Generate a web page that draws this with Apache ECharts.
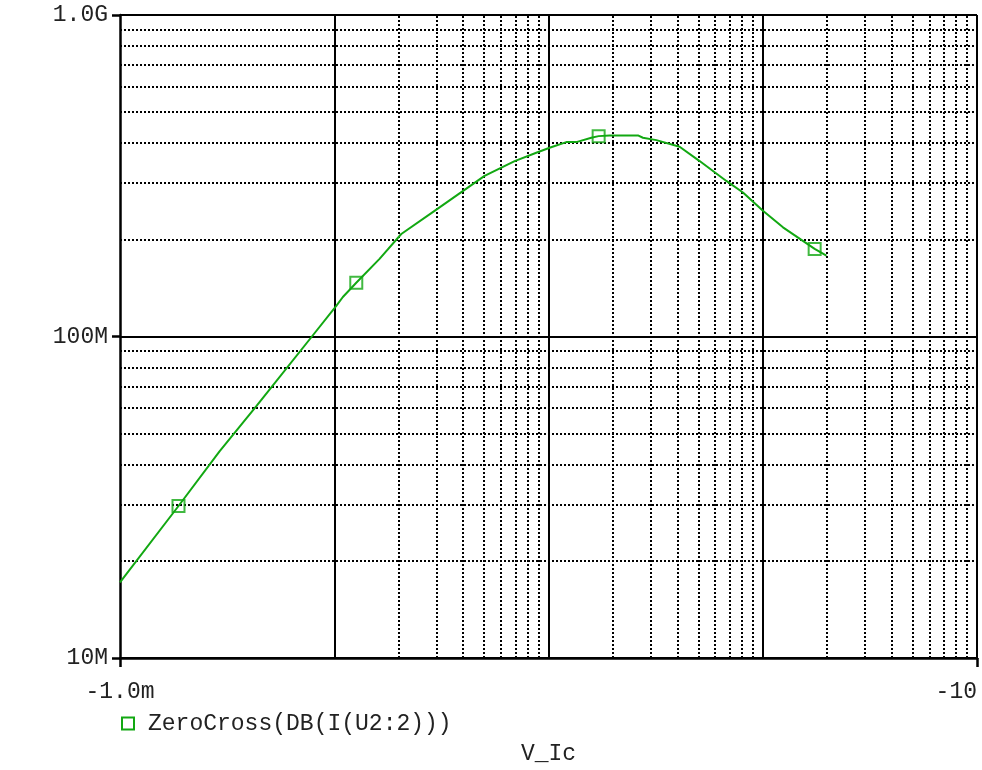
<!DOCTYPE html>
<html>
<head>
<meta charset="utf-8">
<script src="https://cdn.jsdelivr.net/npm/echarts@6/dist/echarts.min.js"></script>
<style>
html,body{margin:0;padding:0;background:#fff;}
#chart{width:982px;height:770px;}
</style>
</head>
<body>
<div id="chart"></div>
<script>
// ---- data (V_Ic in volts, value in Hz) ----
var seriesName = 'ZeroCross(DB(I(U2:2)))';
var xAxisTitle = 'V_Ic';
var xValues = [-0.001, -0.001875, -0.002914, -0.00432, -0.00795, -0.01022, -0.01097, -0.01267,
  -0.01627, -0.02055, -0.02939, -0.0503, -0.0695, -0.0877, -0.1012, -0.1211, -0.1349, -0.1584,
  -0.1714, -0.1929, -0.2615, -0.2759, -0.3187, -0.4093, -0.5074, -0.6762, -0.8085, -1.002,
  -1.2428, -1.747, -1.982];
var yValues = [17.2e6, 29.7e6, 43.95e6, 60.6e6, 100.9e6, 124.5e6, 132.7e6, 147e6,
  174.4e6, 208.4e6, 246e6, 315.8e6, 351.3e6, 373e6, 386.6e6, 402.4e6, 402.4e6, 415.2e6,
  420e6, 422e6, 422e6, 415.2e6, 408.1e6, 389.4e6, 351.3e6, 304.7e6, 280.5e6, 246e6,
  218.6e6, 187.3e6, 178.5e6];
var markerX = [-0.001875, -0.01267, -0.1714, -1.747];
var markerY = [29.7e6, 147e6, 420e6, 187.3e6];
var xRange = [-0.001, -10];
var yRange = [10e6, 1e9];
var xTickValues = [0.001, 10];
var xTickLabels = ['-1.0m', '-10'];
var yTickValues = [1e7, 1e8, 1e9];
var yTickLabels = ['10M', '100M', '1.0G'];

// ---- helpers ----
var GREEN = '#12a812';
var FONT = 'Liberation Mono';
function minorLines(lo, hi) {
  var out = [];
  for (var d = lo; d < hi * 0.999; d *= 10) {
    for (var k = 2; k <= 9; k++) out.push(d * k);
  }
  return out;
}
function majorLines(lo, hi) {
  var out = [];
  for (var d = lo * 10; d < hi * 0.999; d *= 10) out.push(d);
  return out;
}
var xMin = Math.abs(xRange[0]), xMax = Math.abs(xRange[1]);
var xMinor = minorLines(xMin, xMax);
var yMinor = minorLines(yRange[0], yRange[1]);
var xMajor = majorLines(xMin, xMax).concat([xMax]);

var lineData = xValues.map(function (x, i) { return [Math.abs(x), yValues[i]]; });
var markerData = markerX.map(function (x, i) { return [Math.abs(x), markerY[i]]; });

function labelFor(values, labels, v) {
  for (var i = 0; i < values.length; i++) {
    if (Math.abs(Math.log10(v) - Math.log10(values[i])) < 1e-6) return labels[i];
  }
  return '';
}

var chart = echarts.init(document.getElementById('chart'), null, { renderer: 'canvas' });
var dotStyle = { color: '#000', width: 2, type: [2, 2] };
chart.setOption({
  animation: false,
  backgroundColor: '#fff',
  grid: { left: 120, right: 5, top: 15, bottom: 109, containLabel: false },
  legend: {
    left: 116, top: 707,
    itemWidth: 12, itemHeight: 12,
    data: [{ name: seriesName, icon: 'rect',
      itemStyle: { color: 'transparent', borderColor: GREEN, borderWidth: 2 } }],
    textStyle: { fontFamily: FONT, fontSize: 23, color: '#222', padding: [0, 0, 0, 9] },
    selectedMode: false
  },
  xAxis: {
    type: 'log', logBase: 10, min: xMin, max: xMax, splitNumber: 4,
    name: xAxisTitle, nameLocation: 'middle', nameGap: 84,
    nameTextStyle: { fontFamily: FONT, fontSize: 23, color: '#222' },
    axisLine: { show: true, onZero: false, lineStyle: { color: '#000', width: 2.5 } },
    axisTick: { show: true, inside: false, length: 9, customValues: xTickValues,
      lineStyle: { color: '#000', width: 2.5 } },
    axisLabel: { show: true, margin: 22, fontFamily: FONT, fontSize: 23, color: '#222',
      customValues: xTickValues, alignMaxLabel: 'right',
      formatter: function (v) { return labelFor(xTickValues, xTickLabels, v); } },
    splitLine: { show: false },
    minorTick: { show: false }, minorSplitLine: { show: false }
  },
  yAxis: {
    type: 'log', logBase: 10, min: yRange[0], max: yRange[1], splitNumber: 2,
    axisLine: { show: true, onZero: false, lineStyle: { color: '#000', width: 2.5 } },
    axisTick: { show: true, inside: false, length: 8, lineStyle: { color: '#000', width: 2.5 } },
    axisLabel: { show: true, margin: 12, fontFamily: FONT, fontSize: 23, color: '#222',
      formatter: function (v) { return labelFor(yTickValues, yTickLabels, v); } },
    splitLine: { show: true, lineStyle: { color: '#000', width: 2 } },
    minorTick: { show: false }, minorSplitLine: { show: false }
  },
  series: [
    {
      name: 'grid-minor', type: 'line', data: [], z: 1, silent: true,
      markLine: {
        silent: true, symbol: ['none', 'none'], label: { show: false },
        lineStyle: dotStyle, emphasis: { disabled: true },
        data: xMinor.map(function (v) { return { xAxis: v }; })
          .concat(yMinor.map(function (v) { return { yAxis: v }; }))
      }
    },
    {
      name: 'grid-major', type: 'line', data: [], z: 2, silent: true,
      markLine: {
        silent: true, symbol: ['none', 'none'], label: { show: false },
        lineStyle: { color: '#000', width: 2, type: 'solid' }, emphasis: { disabled: true },
        data: xMajor.map(function (v) { return { xAxis: v }; })
      }
    },
    {
      name: seriesName, type: 'line', z: 5, data: lineData,
      showSymbol: false, symbol: 'none', smooth: false,
      lineStyle: { color: GREEN, width: 2 }, itemStyle: { color: GREEN }
    },
    {
      name: seriesName, type: 'scatter', z: 6, data: markerData,
      symbol: 'rect', symbolSize: 12,
      itemStyle: { color: 'transparent', borderColor: GREEN, borderWidth: 2 }
    }
  ]
});
</script>
</body>
</html>
